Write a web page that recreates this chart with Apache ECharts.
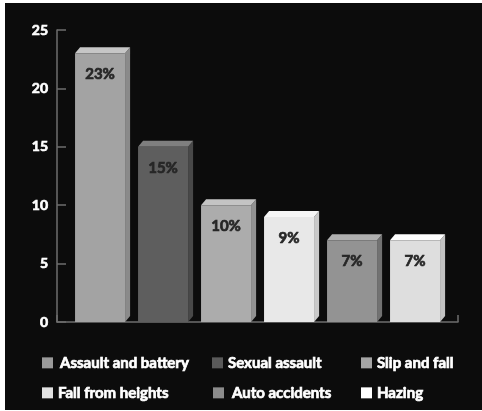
<!DOCTYPE html>
<html>
<head>
<meta charset="utf-8">
<script src="https://cdn.jsdelivr.net/npm/echarts@6/dist/echarts.min.js"></script>
<style>
html,body{margin:0;padding:0;background:#ffffff;width:482px;height:411px;overflow:hidden;}
#bg{position:absolute;left:5px;top:3px;width:477px;height:407px;background:#0c0c0c;}
#chart{position:absolute;left:0;top:0;width:482px;height:411px;}
</style>
</head>
<body>
<div id="bg"></div>
<div id="chart"></div>
<script>
// ---- data ----
var categories = ['Assault and battery', 'Sexual assault', 'Slip and fall', 'Fall from heights', 'Auto accidents', 'Hazing'];
var values = [23, 15, 10, 9, 7, 7];
var yTicks = { min: 0, max: 25, interval: 5 };

// ---- styles ----
var frontColors = ['#a3a3a3', '#5e5e5e', '#acacac', '#e8e8e8', '#939393', '#dedede'];
var topColors   = ['#c6c6c6', '#7f7f7f', '#c4c4c4', '#f6f6f6', '#afafaf', '#ffffff'];
var sideColors  = ['#8a8a8a', '#484848', '#919191', '#c9c9c9', '#727272', '#c2c2c2'];
var legendColors = ['#9a9a9a', '#5a5a5a', '#a5a5a5', '#e2e2e2', '#8c8c8c', '#ffffff'];
var legendPos = [[42, 355], [212, 355], [361, 355], [42, 385], [213, 385], [361, 385]];
var legendTextPad = [2, 0, 0, 0, 3, 0];

var chart = echarts.init(document.getElementById('chart'), null, { renderer: 'canvas' });

function renderBar(idx) {
  return function (params, api) {
    var x = api.value(0), v = api.value(1);
    var pTop = api.coord([x, v]);
    var pBase = api.coord([x, 0]);
    var band = api.size([1, 0])[0];
    var c = pTop[0];
    var L = c - band * 0.42;
    var R = L + band * 0.794;
    var dx = band * 0.08;
    var dy = 6;
    var yT = pTop[1], yB = pBase[1];
    return {
      type: 'group',
      children: [
        { type: 'polygon', shape: { points: [[R, yT], [R + dx, yT - dy], [R + dx, yB - dy], [R, yB]] }, style: { fill: sideColors[idx] } },
        { type: 'polygon', shape: { points: [[L, yT], [L + dx, yT - dy], [R + dx, yT - dy], [R, yT]] }, style: { fill: topColors[idx] } },
        { type: 'rect', shape: { x: L, y: yT, width: R - L, height: yB - yT }, style: { fill: frontColors[idx] } },
        { type: 'text', style: { text: v + '%', x: (L + R) / 2, y: yT + 21, align: 'center', verticalAlign: 'middle', fill: '#262626', font: 'bold 15px Lato', stroke: '#262626', lineWidth: 0.7 } }
      ]
    };
  };
}

var series = categories.map(function (name, i) {
  return {
    name: name,
    type: 'custom',
    xAxisIndex: 1,
    yAxisIndex: 1,
    itemStyle: { color: legendColors[i] },
    renderItem: renderBar(i),
    encode: { x: 0, y: 1 },
    data: [[i, values[i]]],
    silent: true
  };
});

var legends = categories.map(function (name, i) {
  return {
    data: [name],
    left: legendPos[i][0],
    top: legendPos[i][1],
    padding: 0,
    icon: 'rect',
    itemWidth: 11,
    itemHeight: 11,
    selectedMode: false,
    textStyle: { color: '#ffffff', fontFamily: 'Lato', fontWeight: 'bold', fontSize: 15, textBorderColor: '#ffffff', textBorderWidth: 0.7, padding: [0, 0, 0, legendTextPad[i]] }
  };
});

var axisColor = '#6e6e6e';

chart.setOption({
  backgroundColor: 'transparent',
  animation: false,
  legend: legends,
  grid: [
    { left: 57, right: 24, top: 30, bottom: 89 },
    { left: 70, width: 378, top: 30, bottom: 89 }
  ],
  xAxis: [
    {
      gridIndex: 0, type: 'value', min: 0, max: 1, interval: 1,
      axisLine: { show: true, lineStyle: { color: axisColor, width: 1.5 } },
      axisTick: { show: true, inside: true, length: 7, lineStyle: { color: axisColor, width: 1.5 } },
      axisLabel: { show: false }, splitLine: { show: false }
    },
    {
      gridIndex: 1, type: 'category', data: categories, boundaryGap: true,
      show: false
    }
  ],
  yAxis: [
    {
      gridIndex: 0, type: 'value', min: yTicks.min, max: yTicks.max, interval: yTicks.interval,
      axisLine: { show: true, lineStyle: { color: axisColor, width: 1.5 } },
      axisTick: { show: true, inside: true, length: 9, lineStyle: { color: axisColor, width: 1.5 } },
      axisLabel: { color: '#ffffff', fontFamily: 'Lato', fontWeight: 'bold', fontSize: 14, margin: 9, textBorderColor: '#ffffff', textBorderWidth: 0.7 },
      splitLine: { show: false }
    },
    {
      gridIndex: 1, type: 'value', min: yTicks.min, max: yTicks.max, interval: yTicks.interval,
      show: false, splitLine: { show: false }
    }
  ],
  series: series
});
</script>
</body>
</html>
